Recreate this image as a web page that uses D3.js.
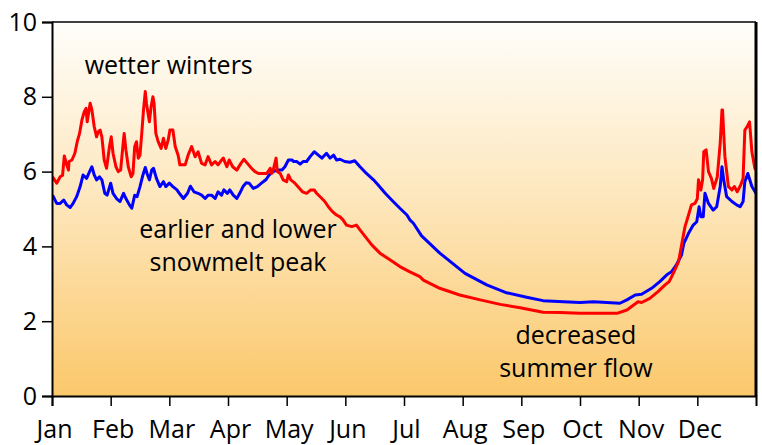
<!DOCTYPE html>
<html><head><meta charset="utf-8">
<script src="https://cdn.jsdelivr.net/npm/d3@7"></script>
<style>body{margin:0;background:#fff}svg{display:block}text{font-family:"Open Sans",sans-serif;fill:#000}</style>
</head><body>
<svg id="c" width="762" height="445"></svg>
<script>
const months = ["Jan","Feb","Mar","Apr","May","Jun","Jul","Aug","Sep","Oct","Nov","Dec"];
const yTicks = [0,2,4,6,8,10];
// x in months since Jan 1 (fractional), y flow value
const redSeries = [
[0.01,5.86],[0.08,5.69],[0.14,5.86],[0.18,5.9],[0.21,6.42],[0.25,6.18],[0.28,6.04],[0.29,6.27],[0.34,6.31],[0.39,6.49],
[0.43,6.8],[0.47,7.02],[0.51,7.38],[0.55,7.6],[0.58,7.69],[0.60,7.33],[0.65,7.83],[0.68,7.65],[0.72,7.2],[0.76,6.93],
[0.79,7.07],[0.82,7.11],[0.85,6.93],[0.89,6.31],[0.93,6.09],[0.98,6.67],[1.01,6.93],[1.04,6.49],[1.09,6.13],[1.13,6.0],
[1.17,6.04],[1.21,6.71],[1.23,7.02],[1.26,6.58],[1.30,6.13],[1.35,5.86],[1.38,5.95],[1.41,6.67],[1.44,6.8],[1.47,6.36],
[1.50,6.44],[1.53,7.02],[1.56,7.65],[1.59,8.14],[1.61,7.83],[1.66,7.33],[1.69,7.74],[1.72,8.0],[1.74,7.83],[1.77,7.02],
[1.81,6.8],[1.86,6.62],[1.90,6.89],[1.94,6.62],[1.98,6.84],[2.01,7.11],[2.06,7.11],[2.10,6.67],[2.15,6.44],[2.18,6.18],
[2.27,6.18],[2.32,6.44],[2.38,6.67],[2.44,6.4],[2.49,6.53],[2.55,6.22],[2.61,6.18],[2.66,6.4],[2.72,6.18],[2.78,6.27],
[2.83,6.18],[2.89,6.31],[2.92,6.36],[2.98,6.13],[3.02,6.31],[3.08,6.13],[3.15,6.04],[3.22,6.22],[3.27,6.33],[3.33,6.22],
[3.40,6.09],[3.46,6.0],[3.52,5.95],[3.60,5.95],[3.66,5.95],[3.72,6.09],[3.74,5.95],[3.77,6.04],[3.82,6.36],[3.84,6.0],
[3.89,5.95],[3.94,5.78],[4.00,5.73],[4.03,5.91],[4.07,5.78],[4.14,5.69],[4.22,5.55],[4.27,5.46],[4.34,5.42],[4.41,5.51],
[4.47,5.51],[4.51,5.42],[4.60,5.28],[4.65,5.2],[4.71,5.06],[4.78,4.93],[4.85,4.84],[4.91,4.79],[4.96,4.71],[5.02,4.57],
[5.11,4.53],[5.19,4.57],[5.25,4.44],[5.34,4.26],[5.45,4.04],[5.59,3.82],[5.76,3.64],[5.93,3.46],[6.10,3.32],[6.27,3.19],
[6.33,3.1],[6.61,2.88],[6.95,2.7],[7.30,2.57],[7.64,2.45],[7.98,2.36],[8.37,2.24],[8.66,2.23],[9.00,2.21],[9.63,2.21],
[9.80,2.3],[9.99,2.52],[10.05,2.5],[10.19,2.61],[10.33,2.79],[10.45,2.97],[10.52,3.06],[10.59,3.28],[10.68,3.59],[10.75,4.2],
[10.79,4.53],[10.85,4.84],[10.90,5.11],[10.96,5.15],[11.00,5.28],[11.02,5.78],[11.06,5.51],[11.09,5.78],[11.11,6.53],[11.15,6.58],
[11.19,6.0],[11.24,5.82],[11.28,5.55],[11.34,5.86],[11.39,6.76],[11.42,7.65],[11.43,7.65],[11.47,6.4],[11.53,5.6],[11.59,5.51],
[11.63,5.6],[11.68,5.46],[11.74,5.64],[11.78,5.82],[11.81,7.11],[11.85,7.2],[11.89,7.33],[11.93,6.53],[11.98,6.09],[12.0,6.04]
];
const blueSeries = [
[0.01,5.37],[0.08,5.15],[0.14,5.15],[0.20,5.24],[0.25,5.11],[0.31,5.04],[0.36,5.15],[0.42,5.33],[0.48,5.6],[0.53,5.91],
[0.59,5.82],[0.64,6.0],[0.68,6.13],[0.72,5.91],[0.76,5.78],[0.81,5.86],[0.85,5.78],[0.90,5.42],[0.94,5.37],[1.00,5.69],
[1.04,5.42],[1.10,5.28],[1.16,5.2],[1.22,5.42],[1.26,5.28],[1.32,5.11],[1.36,5.02],[1.41,5.37],[1.45,5.33],[1.50,5.6],
[1.55,5.91],[1.59,6.11],[1.62,5.95],[1.66,5.78],[1.70,6.04],[1.73,6.09],[1.78,5.82],[1.84,5.6],[1.90,5.73],[1.94,5.6],
[2.00,5.69],[2.06,5.6],[2.13,5.51],[2.17,5.42],[2.24,5.28],[2.31,5.42],[2.36,5.61],[2.42,5.46],[2.49,5.42],[2.55,5.37],
[2.61,5.28],[2.66,5.37],[2.72,5.37],[2.78,5.28],[2.83,5.46],[2.89,5.37],[2.93,5.51],[2.99,5.42],[3.03,5.51],[3.09,5.37],
[3.15,5.28],[3.20,5.42],[3.26,5.61],[3.31,5.7],[3.36,5.69],[3.43,5.55],[3.50,5.6],[3.57,5.69],[3.65,5.79],[3.70,5.91],
[3.77,6.0],[3.83,6.04],[3.92,6.04],[3.97,6.13],[4.03,6.31],[4.09,6.31],[4.12,6.27],[4.17,6.27],[4.23,6.2],[4.28,6.27],
[4.34,6.27],[4.40,6.4],[4.47,6.53],[4.54,6.44],[4.60,6.36],[4.68,6.49],[4.74,6.36],[4.80,6.44],[4.85,6.31],[4.91,6.33],
[4.99,6.27],[5.08,6.25],[5.16,6.29],[5.25,6.13],[5.36,5.95],[5.48,5.78],[5.56,5.64],[5.68,5.42],[5.79,5.24],[5.93,5.02],
[6.05,4.84],[6.10,4.71],[6.16,4.62],[6.30,4.28],[6.61,3.82],[7.04,3.28],[7.41,2.97],[7.75,2.76],[8.09,2.64],[8.37,2.55],
[8.72,2.52],[9.00,2.5],[9.23,2.52],[9.68,2.48],[9.80,2.57],[9.94,2.7],[10.05,2.72],[10.22,2.88],[10.36,3.06],[10.48,3.24],
[10.56,3.32],[10.64,3.5],[10.73,3.77],[10.77,4.08],[10.85,4.35],[10.93,4.57],[10.99,4.66],[11.03,5.06],[11.06,4.79],[11.10,4.79],
[11.13,5.42],[11.19,5.15],[11.27,4.97],[11.33,5.06],[11.39,5.6],[11.42,6.13],[11.45,5.78],[11.50,5.33],[11.59,5.2],[11.67,5.11],
[11.73,5.06],[11.78,5.2],[11.81,5.73],[11.86,5.95],[11.93,5.6],[12.0,5.42]
];
const annotations = [
  {lines:["wetter winters"], x:1.99, y:8.6},
  {lines:["earlier and lower","snowmelt peak"], x:3.17, y:4.22},
  {lines:["decreased","summer flow"], x:8.93, y:1.39}
];

const svg = d3.select("#c");
const L=52, R=756, T=22, B=396;
const x = d3.scaleLinear().domain([0,12]).range([L,R]);
const y = d3.scaleLinear().domain([0,10]).range([B,T]);

const defs = svg.append("defs");
const g = defs.append("linearGradient").attr("id","bg").attr("x1",0).attr("y1",0).attr("x2",0).attr("y2",1);
g.append("stop").attr("offset","0%").attr("stop-color","#fffefb");
g.append("stop").attr("offset","50%").attr("stop-color","#fde5b8");
g.append("stop").attr("offset","100%").attr("stop-color","#fbc86b");
defs.append("clipPath").attr("id","clip").append("rect").attr("x",L).attr("y",T-10).attr("width",R-L).attr("height",B-T+10);

svg.append("rect").attr("x",L).attr("y",T).attr("width",R-L).attr("height",B-T).attr("fill","url(#bg)");

const line = d3.line().x(d=>x(d[0])).y(d=>y(d[1]));
const plot = svg.append("g").attr("clip-path","url(#clip)");
plot.append("path").datum(blueSeries).attr("d",line).attr("fill","none").attr("stroke","#0000ff").attr("stroke-width",3).attr("stroke-linejoin","round");
plot.append("path").datum(redSeries).attr("d",line).attr("fill","none").attr("stroke","#ff0000").attr("stroke-width",3).attr("stroke-linejoin","round");
// re-draw blue segment over red where blue is on top (Jan-Apr blue lower so order fine)

// frame
svg.append("line").attr("x1",L).attr("x2",R).attr("y1",T).attr("y2",T).attr("stroke","#000").attr("stroke-width",1.5);
svg.append("line").attr("x1",R).attr("x2",R).attr("y1",T).attr("y2",B).attr("stroke","#000").attr("stroke-width",3);

// axes
const yAxis = svg.append("g").attr("transform",`translate(${L},0)`)
  .call(d3.axisLeft(y).tickValues(yTicks).tickSize(10).tickPadding(0).tickFormat(d3.format("d")));
yAxis.select(".domain").attr("stroke","#000").attr("stroke-width",2);
yAxis.selectAll(".tick line").attr("stroke","#000").attr("stroke-width",1.5);
yAxis.selectAll(".tick text").attr("x",-15).attr("dy","0.32em").style("font-size","25px").attr("fill","#000").style("font-family",'"Open Sans",sans-serif');

const xAxis = svg.append("g").attr("transform",`translate(0,${B})`)
  .call(d3.axisBottom(x).tickValues(d3.range(12)).tickSize(10).tickFormat(i=>months[i]));
xAxis.select(".domain").attr("stroke","#000").attr("stroke-width",2);
xAxis.selectAll(".tick line").attr("stroke","#000").attr("stroke-width",1.5);
xAxis.selectAll(".tick text").attr("y",42).attr("dy",0).attr("dx",2).style("font-size","25px").attr("fill","#000").style("font-family",'"Open Sans",sans-serif');

// annotations
annotations.forEach(a=>{
  const t = svg.append("text").attr("text-anchor","middle").style("font-size","25px");
  a.lines.forEach((s,i)=>{
    t.append("tspan").attr("x",x(a.x)).attr("y",y(a.y)+i*32.5).text(s);
  });
});
</script>
</body></html>
